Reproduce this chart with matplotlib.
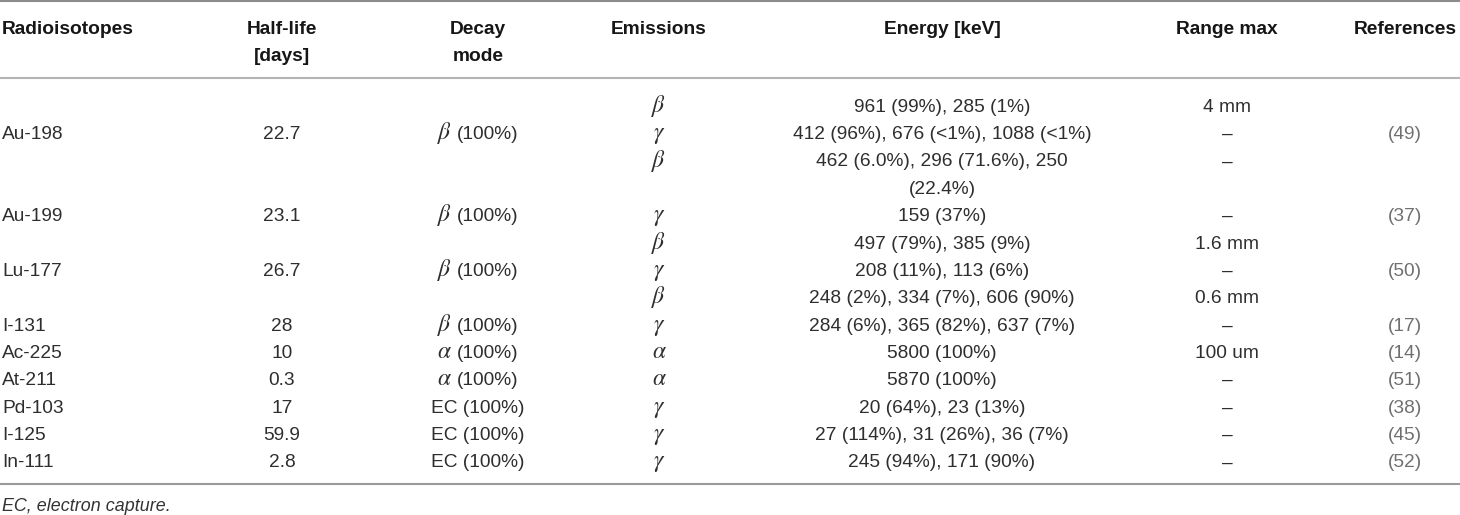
import matplotlib.pyplot as plt

plt.rcParams['font.family'] = ['Liberation Sans', 'DejaVu Sans']
plt.rcParams['mathtext.fontset'] = 'stix'

#%% table content
headers = [["Radioisotopes"], ["Half-life", "[days]"], ["Decay", "mode"], ["Emissions"],
           ["Energy [keV]"], ["Range max"], ["References"]]

isotopes = ["Au-198", "Au-199", "Lu-177", "I-131", "Ac-225", "At-211", "Pd-103", "I-125", "In-111"]
half_life = ["22.7", "23.1", "26.7", "28", "10", "0.3", "17", "59.9", "2.8"]
decay_sym = [r"$\beta$", r"$\beta$", r"$\beta$", r"$\beta$", r"$\alpha$", r"$\alpha$", "", "", ""]
decay_txt = ["(100%)", "(100%)", "(100%)", "(100%)", "(100%)", "(100%)",
             "EC (100%)", "EC (100%)", "EC (100%)"]
references = ["(49)", "(37)", "(50)", "(17)", "(14)", "(51)", "(38)", "(45)", "(52)"]
label_line = [1, 4, 6, 8, 9, 10, 11, 12, 13]

emissions = [r"$\beta$", r"$\gamma$", r"$\beta$", r"$\gamma$", r"$\beta$", r"$\gamma$", r"$\beta$",
             r"$\gamma$", r"$\alpha$", r"$\alpha$", r"$\gamma$", r"$\gamma$", r"$\gamma$"]
energies = ["961 (99%), 285 (1%)",
            "412 (96%), 676 (<1%), 1088 (<1%)",
            "462 (6.0%), 296 (71.6%), 250\n(22.4%)",
            "159 (37%)",
            "497 (79%), 385 (9%)",
            "208 (11%), 113 (6%)",
            "248 (2%), 334 (7%), 606 (90%)",
            "284 (6%), 365 (82%), 637 (7%)",
            "5800 (100%)",
            "5870 (100%)",
            "20 (64%), 23 (13%)",
            "27 (114%), 31 (26%), 36 (7%)",
            "245 (94%), 171 (90%)"]
range_max = ["4 mm", "–", "–", "–", "1.6 mm", "–", "0.6 mm", "–", "100 um", "–", "–", "–", "–"]
footnote = "EC, electron capture."

#%% layout
W, H = 1460, 515
col_x = [2, 282, 478, 659, 942, 1227, 1405]
col_ha = ['left'] + ['center'] * 6
head_y = 27
row0 = 105
pitch = 27.35
base = 6.8   # baseline below the cap centre
fs = 13.8
fs_greek = 17
body = '#2e2e2e'

fig = plt.figure(figsize=(W / 100, H / 100), dpi=100)
ax = fig.add_axes([0, 0, 1, 1])
ax.set_xlim(0, W)
ax.set_ylim(H, 0)
ax.axis('off')
renderer = fig.canvas.get_renderer()


def put(x, line, s, ha='center', size=fs, **kw):
    y = row0 + pitch * line
    return ax.text(x, y + base, s, ha=ha, va='baseline', fontsize=size,
                   color=kw.pop('color', body), **kw)


# rules
ax.axhline(1, color='#8c8c8c', lw=1.5)
ax.axhline(78, color='#b4b4b4', lw=1.5)
ax.axhline(484, color='#9a9a9a', lw=1.5)

# header
for j, lines in enumerate(headers):
    for k, s in enumerate(lines):
        ax.text(col_x[j], head_y + pitch * k + base, s, ha=col_ha[j], va='baseline',
                fontsize=fs, fontweight='bold', color='#161616')

# per isotope columns
for i in range(len(isotopes)):
    ln = label_line[i]
    put(col_x[0], ln, isotopes[i], ha='left')
    put(col_x[1], ln, half_life[i])
    put(col_x[6], ln, references[i], color='#707070')
    if decay_sym[i]:
        # greek symbol + text, centred as a group
        t1 = put(0, ln, decay_sym[i], ha='left', size=fs_greek)
        t2 = put(0, ln, decay_txt[i], ha='left')
        w1 = t1.get_window_extent(renderer).width
        w2 = t2.get_window_extent(renderer).width
        gap = 5
        x0 = col_x[2] - (w1 + gap + w2) / 2
        t1.set_x(x0)
        t2.set_x(x0 + w1 + gap)
    else:
        put(col_x[2], ln, decay_txt[i])

# per emission columns
ln = 0
for sym, en, rng in zip(emissions, energies, range_max):
    put(col_x[3], ln, sym, size=fs_greek)
    put(col_x[5], ln, rng)
    parts = en.split('\n')
    for k, s in enumerate(parts):
        put(col_x[4], ln + k, s)
    ln += len(parts)

ax.text(2, 505 + 6.3, footnote, ha='left', va='baseline', fontsize=12.9,
        style='italic', color='#333333')

fig.savefig('out.png', dpi=100)
